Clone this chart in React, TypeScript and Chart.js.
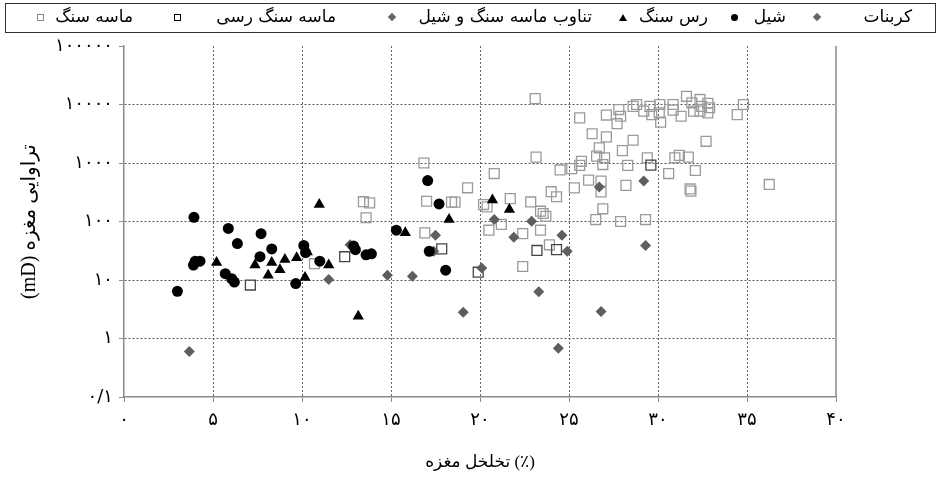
import React, { useEffect, useRef } from 'react';
import { Chart, registerables } from 'chart.js';

Chart.register(...registerables);

// ---------- data ----------
const shaleX = [3.93, 4.0, 4.27, 3.9, 3.0, 5.86, 6.37, 7.7, 8.3, 7.64, 5.69, 6.05, 6.2, 9.65, 10.1, 10.2, 11.0, 12.9, 13.0, 13.6, 13.9, 15.3, 17.06, 17.7, 17.15, 18.07];
const shaleY = [118, 21, 21, 18, 6.4, 76, 42, 62, 34, 25, 12.8, 10.5, 9.2, 8.7, 39, 29.5, 21, 38, 33, 27, 28, 71, 500, 200, 31, 14.7];

const clayX = [5.2, 7.36, 8.3, 9.04, 8.76, 8.1, 9.7, 10.17, 10.3, 11.5, 10.97, 13.16, 15.8, 18.26, 20.7, 21.65];
const clayY = [20, 18, 20, 22.4, 15, 12, 24, 11, 30, 18, 195, 2.4, 64, 108, 232, 160];

const carbX = [3.67, 19.06, 23.3, 26.8, 24.4, 26.7, 29.2, 29.3, 24.9, 24.6];
const carbY = [0.6, 2.8, 6.3, 2.9, 0.68, 390, 490, 39, 31, 58];

const altX = [11.5, 12.7, 14.8, 16.2, 17.5, 17.4, 20.1, 20.8, 21.9, 22.9];
const altY = [10.2, 40, 12, 11.6, 58, 31, 16, 108, 54, 101];

const claySandX = [7.1, 12.4, 17.85, 19.9, 23.2, 24.3, 29.6];
const claySandY = [8.2, 25, 34, 13.6, 32, 33, 920];

const sandX = [10.7, 13.45, 13.8, 13.6, 16.85, 19.3, 17.0, 18.4, 18.6, 16.9, 23.1, 23.15, 20.8, 21.7, 20.2, 20.4, 22.85, 24.0, 24.3, 23.4, 23.55, 23.7, 21.2, 20.5, 22.4, 23.4, 23.9, 22.4,
  25.6, 27.1, 27.8, 27.9, 27.7, 28.6, 26.3, 27.1, 26.7, 28.6, 28.0, 26.55, 27.0, 25.7, 25.6, 25.15, 24.5, 26.9, 28.3, 26.1, 26.8, 26.8, 25.3, 28.2, 26.9, 26.5, 27.9,
  28.8, 29.2, 29.55, 29.65, 30.1, 30.07, 30.15, 30.85, 30.85, 31.3, 31.6, 31.9, 32.0, 32.36, 32.45, 32.36, 32.8, 32.9, 32.8, 34.45, 34.8, 32.7, 29.4, 30.95, 31.2, 31.7, 30.6, 32.1, 31.8, 31.85, 36.25, 29.3];
const sandY = [19, 218, 208, 116, 1000, 377, 222, 214, 214, 64, 12600, 1260, 660, 246, 195, 178, 216, 323, 265, 150, 137, 123, 89, 71, 62, 71, 40, 17,
  5900, 6600, 8200, 6300, 4700, 9300, 3160, 2800, 1820, 2450, 1630, 1310, 1230, 1070, 910, 800, 760, 940, 910, 510, 490, 320, 375, 415, 165, 108, 100,
  10000, 7700, 9300, 6700, 10000, 7200, 5000, 10000, 8000, 6300, 13800, 10700, 7700, 12200, 9300, 7700, 10500, 8800, 7200, 6700, 10000, 2350, 1230, 1230, 1350, 1260, 660, 745, 360, 330, 430, 108];

const xTickLabels = ['۰', '۵', '۱۰', '۱۵', '۲۰', '۲۵', '۳۰', '۳۵', '۴۰'];
const yTickValues = [0.1, 1, 10, 100, 1000, 10000, 100000];
const yTickLabels = ['۰/۱', '۱', '۱۰', '۱۰۰', '۱۰۰۰', '۱۰۰۰۰', '۱۰۰۰۰۰'];

const legendNames = ['کربنات', 'شیل', 'رس سنگ', 'تناوب ماسه سنگ و شیل', 'ماسه سنگ رسی', 'ماسه سنگ'];
const xTitle = 'تخلخل مغزه (٪)';
const yTitle = 'تراوایی مغزه (mD)';

const FONT = "'Liberation Serif', 'DejaVu Sans', serif";
const AR_FONT = "'DejaVu Sans', 'Liberation Serif', serif";

const pts = (xs: number[], ys: number[]) => xs.map((x, i) => ({ x, y: ys[i] }));

const rightBorder = {
  id: 'rightBorder',
  afterDraw(chart: any) {
    const { ctx, chartArea } = chart;
    ctx.save();
    ctx.strokeStyle = '#8a8a8a';
    ctx.lineWidth = 1.5;
    ctx.beginPath();
    ctx.moveTo(chartArea.right, chartArea.top);
    ctx.lineTo(chartArea.right, chartArea.bottom);
    ctx.stroke();
    ctx.restore();
  },
};

function Marker({ kind }: { kind: string }) {
  const base: React.CSSProperties = { display: 'inline-block', boxSizing: 'border-box' };
  if (kind === 'diamond') return <span style={{ ...base, width: 6, height: 6, background: '#666', transform: 'rotate(45deg)' }} />;
  if (kind === 'circle') return <span style={{ ...base, width: 7, height: 7, background: '#000', borderRadius: '50%' }} />;
  if (kind === 'triangle') return <span style={{ ...base, width: 0, height: 0, borderLeft: '4px solid transparent', borderRight: '4px solid transparent', borderBottom: '7px solid #000' }} />;
  if (kind === 'sqDark') return <span style={{ ...base, width: 7, height: 7, border: '1px solid #000' }} />;
  return <span style={{ ...base, width: 7, height: 7, border: '1px solid #888' }} />;
}

const legendLayout = [
  { name: 0, textRight: 912, marker: 'diamond', mx: 817 },
  { name: 1, textRight: 786, marker: 'circle', mx: 734 },
  { name: 2, textRight: 708, marker: 'triangle', mx: 623 },
  { name: 3, textRight: 592, marker: 'diamond', mx: 392 },
  { name: 4, textRight: 336, marker: 'sqDark', mx: 177 },
  { name: 5, textRight: 133, marker: 'sqLight', mx: 40 },
];

export default function App() {
  const ref = useRef<HTMLCanvasElement>(null);
  useEffect(() => {
    if (!ref.current) return;
    const tickFont = { family: AR_FONT, size: 18 };
    const chart = new Chart(ref.current, {
      type: 'scatter',
      data: {
        datasets: [
          { label: legendNames[1], data: pts(shaleX, shaleY), pointStyle: 'circle', pointRadius: 5.5, backgroundColor: '#000', borderColor: '#000', borderWidth: 0 },
          { label: legendNames[2], data: pts(clayX, clayY), pointStyle: 'triangle', pointRadius: 6.5, backgroundColor: '#000', borderColor: '#000', borderWidth: 0 },
          { label: legendNames[0], data: pts(carbX, carbY), pointStyle: 'rectRot', pointRadius: 5.5, backgroundColor: '#5e5e5e', borderColor: '#5e5e5e', borderWidth: 0 },
          { label: legendNames[3], data: pts(altX, altY), pointStyle: 'rectRot', pointRadius: 5.5, backgroundColor: '#5e5e5e', borderColor: '#5e5e5e', borderWidth: 0 },
          { label: legendNames[4], data: pts(claySandX, claySandY), pointStyle: 'rect', pointRadius: 7, backgroundColor: 'rgba(255,255,255,0)', borderColor: '#444', borderWidth: 1.3 },
          { label: legendNames[5], data: pts(sandX, sandY), pointStyle: 'rect', pointRadius: 7, backgroundColor: 'rgba(255,255,255,0)', borderColor: '#9a9a9a', borderWidth: 1.3 },
        ] as any,
      },
      options: {
        responsive: false,
        animation: false,
        events: [],
        layout: { padding: { left: 0, right: 103, top: 46, bottom: 0 } },
        plugins: { legend: { display: false }, tooltip: { enabled: false } },
        scales: {
          x: {
            type: 'linear',
            min: 0,
            max: 40,
            ticks: {
              stepSize: 5,
              autoSkip: false,
              maxRotation: 0,
              color: '#000',
              font: tickFont,
              padding: 8,
              callback: (_v: any, i: number) => xTickLabels[i],
            },
            grid: {
              color: (c: any) => (c.tick && (c.tick.value === 0 || c.tick.value === 40) ? 'rgba(0,0,0,0)' : '#666'),
              lineWidth: 1,
              tickLength: 5,
              tickColor: '#8a8a8a',
              tickBorderDash: [],
            } as any,
            border: { display: true, color: '#8a8a8a', width: 1.5, dash: [2, 2] },
            title: { display: true, text: '\u200E' + xTitle, color: '#000', font: { family: FONT, size: 17 }, padding: { top: 0, bottom: 7 } },
            afterFit: (s: any) => { s.height = 83; },
          },
          y: {
            type: 'logarithmic',
            min: 0.1,
            max: 100000,
            afterBuildTicks: (s: any) => { s.ticks = yTickValues.map((v) => ({ value: v })); },
            ticks: {
              autoSkip: false,
              color: '#000',
              font: tickFont,
              padding: 6,
              callback: (_v: any, i: number) => yTickLabels[i],
            },
            grid: {
              color: (c: any) => (c.tick && (c.tick.value === 100000 || c.tick.value === 0.1) ? 'rgba(0,0,0,0)' : '#555'),
              lineWidth: 1,
              tickLength: 5,
              tickColor: '#8a8a8a',
              tickBorderDash: [],
            } as any,
            border: { display: true, color: '#8a8a8a', width: 1.5, dash: [2, 2] },
            title: { display: true, text: '\u202B' + yTitle + '\u202C', color: '#000', font: { family: FONT, size: 20 }, padding: { top: 18, bottom: 0 } },
            afterFit: (s: any) => { s.width = 124; },
          },
        },
      } as any,
      plugins: [rightBorder],
    });
    return () => chart.destroy();
  }, []);

  return (
    <div style={{ position: 'absolute', left: 0, top: 0, width: 939, height: 480, background: '#fff', overflow: 'hidden' }}>
      <canvas ref={ref} width={939} height={480} style={{ position: 'absolute', left: 0, top: 0, width: 939, height: 480 }} />
      <div style={{ position: 'absolute', left: 5, top: 3, width: 929, height: 28, border: '1px solid #333' }} />
      {legendLayout.map((it, i) => (
        <React.Fragment key={i}>
          <span style={{ position: 'absolute', right: 939 - it.textRight, top: 6, direction: 'rtl', whiteSpace: 'nowrap', fontFamily: AR_FONT, fontSize: 17, lineHeight: '20px', color: '#000' }}>
            {legendNames[it.name]}
          </span>
          <span style={{ position: 'absolute', left: it.mx - 4, top: 13, lineHeight: 0, display: 'flex', alignItems: 'center', justifyContent: 'center', width: 8, height: 8 }}>
            <Marker kind={it.marker} />
          </span>
        </React.Fragment>
      ))}
    </div>
  );
}
